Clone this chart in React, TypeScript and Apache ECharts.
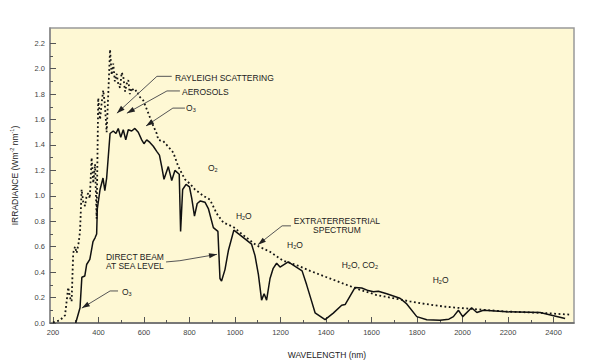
import React, { useEffect, useRef } from "react";
import * as echarts from "echarts";

// Direct beam at sea level (wavelength nm, irradiance W m^-2 nm^-1)
const directBeam: [number, number][] = [
  [300, 0], [319, 0.12], [327, 0.36], [340, 0.37], [348, 0.46], [362, 0.5], [376, 0.64], [385, 0.67], [392, 0.7],
  [395, 0.9], [407, 1.05], [420, 1.14], [428, 1.04], [436, 1.14], [451, 1.49], [465, 1.51], [477, 1.49],
  [487, 1.53], [498, 1.46], [509, 1.52], [520, 1.44], [531, 1.52], [546, 1.51], [560, 1.53], [575, 1.5],
  [590, 1.44], [600, 1.41], [612, 1.44], [626, 1.42], [641, 1.39], [656, 1.35], [668, 1.32], [678, 1.23],
  [688, 1.13], [707, 1.23], [722, 1.12], [736, 1.2], [755, 1.17], [761, 0.72], [770, 1.05], [785, 1.09],
  [800, 1.07], [810, 0.98], [822, 0.84], [834, 0.94], [848, 0.96], [868, 0.95], [883, 0.9], [905, 0.75],
  [925, 0.72], [934, 0.35], [941, 0.33], [956, 0.42], [971, 0.57], [995, 0.73], [1073, 0.62], [1088, 0.53],
  [1103, 0.38], [1117, 0.18], [1128, 0.23], [1139, 0.18], [1154, 0.35], [1168, 0.43], [1183, 0.47],
  [1198, 0.44], [1234, 0.48], [1278, 0.43], [1295, 0.41], [1315, 0.3], [1337, 0.17], [1352, 0.08],
  [1396, 0.026], [1432, 0.078], [1469, 0.14], [1484, 0.145], [1528, 0.28], [1557, 0.275], [1586, 0.255],
  [1608, 0.245], [1630, 0.25], [1667, 0.23], [1725, 0.195], [1755, 0.15], [1799, 0.05], [1843, 0.026],
  [1901, 0.022], [1940, 0.03], [1960, 0.05], [1982, 0.1], [2001, 0.05], [2040, 0.12], [2063, 0.083],
  [2092, 0.1], [2195, 0.088], [2341, 0.082], [2451, 0.035],
];

// Extraterrestrial spectrum
const extraterrestrial: [number, number][] = [
  [200, 0.005], [230, 0.02], [253, 0.06], [262, 0.2], [267, 0.28], [275, 0.2], [282, 0.17], [289, 0.55],
  [297, 0.6], [304, 0.55], [312, 0.62], [319, 0.72], [326, 1.05], [333, 0.95], [341, 0.92], [348, 1.0],
  [355, 1.02], [362, 0.98], [370, 1.3], [377, 1.1], [385, 1.25], [392, 0.82], [399, 1.77], [407, 1.6],
  [414, 1.73], [421, 1.83], [428, 1.72], [436, 1.5], [443, 1.8], [451, 2.15], [458, 1.95], [465, 2.04],
  [472, 1.9], [480, 1.96], [487, 1.88], [495, 1.85], [502, 1.97], [509, 1.94], [517, 1.82], [524, 1.88],
  [531, 1.91], [538, 1.8], [546, 1.85], [557, 1.82], [568, 1.83], [580, 1.78], [597, 1.75], [619, 1.65],
  [641, 1.55], [656, 1.49], [663, 1.44], [685, 1.43], [705, 1.39], [729, 1.34], [751, 1.23], [780, 1.13],
  [805, 1.09], [824, 1.05], [861, 1.0], [890, 0.97], [920, 0.86], [949, 0.79], [993, 0.755], [1037, 0.69],
  [1095, 0.61], [1154, 0.56], [1212, 0.49], [1271, 0.455], [1330, 0.41], [1403, 0.36], [1476, 0.31],
  [1550, 0.26], [1623, 0.22], [1696, 0.195], [1769, 0.17], [1843, 0.148], [1916, 0.13], [1975, 0.12],
  [2048, 0.11], [2195, 0.09], [2341, 0.08], [2480, 0.065],
];

const xMinorTicks = [200, 300, 400, 500, 600, 700, 800, 900, 1000, 1100, 1200, 1300, 1400, 1500, 1600, 1700, 1800, 1900, 2000, 2100, 2200, 2300, 2400];
const xLabels = [200, 400, 600, 800, 1000, 1200, 1400, 1600, 1800, 2000, 2200, 2400];
const yMinorTicks = [0, 0.1, 0.2, 0.3, 0.4, 0.5, 0.6, 0.7, 0.8, 0.9, 1.0, 1.1, 1.2, 1.3, 1.4, 1.5, 1.6, 1.7, 1.8, 1.9, 2.0, 2.1, 2.2];
const yLabels = [0, 0.2, 0.4, 0.6, 0.8, 1.0, 1.2, 1.4, 1.6, 1.8, 2.0, 2.2];

// Annotations in data coordinates
const annotationTexts: { text: string; at: [number, number]; align?: "left" | "center" }[] = [
  { text: "RAYLEIGH SCATTERING", at: [736, 1.93] },
  { text: "AEROSOLS", at: [767, 1.82] },
  { text: "O{s|3}", at: [785, 1.69] },
  { text: "O{s|2}", at: [881, 1.22] },
  { text: "H{s|2}O", at: [1004, 0.84] },
  { text: "EXTRATERRESTRIAL\nSPECTRUM", at: [1448, 0.768], align: "center" },
  { text: "H{s|2}O", at: [1229, 0.61] },
  { text: "H{s|2}O, CO{s|2}", at: [1469, 0.46] },
  { text: "H{s|2}O", at: [1869, 0.34] },
  { text: "DIRECT BEAM\nAT SEA LEVEL", at: [433, 0.48] },
  { text: "O{s|3}", at: [503, 0.245] },
];

const annotationArrows: [number, number][][] = [
  [[722, 1.94], [657, 1.94], [481, 1.65]],
  [[758, 1.825], [701, 1.825], [525, 1.65]],
  [[780, 1.69], [727, 1.69], [609, 1.55]],
  [[1246, 0.764], [1207, 0.764], [1101, 0.616]],
  [[697, 0.48], [758, 0.49], [921, 0.54]],
  [[486, 0.252], [451, 0.252], [327, 0.117]],
];

const FONT = "'Liberation Sans', Arial, Helvetica, sans-serif";

export default function App() {
  const ref = useRef<HTMLDivElement>(null);

  useEffect(() => {
    if (!ref.current) return;
    const chart = echarts.init(ref.current, null, { renderer: "svg" });
    const xRange = { min: 187, max: 2490 };
    const yRange = { min: 0, max: 2.32 };
    const option: any = {
      animation: false,
      backgroundColor: "#ffffff",
      grid: {
        left: 50, right: 26, top: 28, bottom: 39,
        show: true, backgroundColor: "#fef8d4", borderColor: "#999999", borderWidth: 1.5,
      },
      xAxis: [
        {
          type: "value", ...xRange,
          name: "WAVELENGTH (nm)", nameLocation: "middle", nameGap: 27,
          nameTextStyle: { fontFamily: FONT, fontSize: 8.5, color: "#222", padding: [0, 0, 0, 30] },
          axisLine: { show: true, lineStyle: { color: "#666", width: 1.5 } },
          axisTick: { show: true, inside: true, length: 3, customValues: xMinorTicks, lineStyle: { color: "#555" } },
          axisLabel: {
            customValues: xLabels, fontFamily: FONT, fontSize: 7.5, color: "#444", margin: 5,
            formatter: (v: number) => String(v),
          },
          splitLine: { show: false },
        },
        {
          type: "value", ...xRange, position: "bottom",
          axisLine: { show: false },
          axisTick: { show: true, inside: true, length: 6, customValues: xLabels, lineStyle: { color: "#555" } },
          axisLabel: { show: false },
          splitLine: { show: false },
        },
      ],
      yAxis: [
        {
          type: "value", ...yRange,
          name: "IRRADIANCE (Wm{sup|-2} nm{sup|-1})", nameLocation: "middle", nameGap: 29, nameRotate: 90,
          nameTextStyle: {
            fontFamily: FONT, fontSize: 8.5, color: "#222", lineHeight: 12,
            rich: { sup: { fontFamily: FONT, fontSize: 5.5, color: "#222", verticalAlign: "top", lineHeight: 12 } },
          },
          axisLine: { show: true, lineStyle: { color: "#888", width: 1.5 } },
          axisTick: { show: true, inside: true, length: 3, customValues: yMinorTicks, lineStyle: { color: "#555" } },
          axisLabel: {
            customValues: yLabels, fontFamily: FONT, fontSize: 7.5, color: "#444", margin: 5,
            formatter: (v: number) => v.toFixed(1),
          },
          splitLine: { show: false },
        },
        {
          type: "value", ...yRange, position: "left", offset: 0,
          axisLine: { show: false },
          axisTick: { show: true, inside: true, length: 6, customValues: yLabels, lineStyle: { color: "#555" } },
          axisLabel: { show: false },
          splitLine: { show: false },
        },
      ],
      series: [
        {
          type: "line", name: "Extraterrestrial", data: extraterrestrial, showSymbol: false,
          lineStyle: { color: "#151515", width: 1.8, type: [1.8, 2.6] },
          z: 3,
        },
        {
          type: "line", name: "Direct beam", data: directBeam, showSymbol: false,
          lineStyle: { color: "#111", width: 1.5 },
          z: 4,
        },
      ],
    };
    chart.setOption(option);

    const px = (p: [number, number]) =>
      chart.convertToPixel({ xAxisIndex: 0, yAxisIndex: 0 }, p) as number[];

    const graphics: any[] = [];
    annotationTexts.forEach((a) => {
      const [x, y] = px(a.at);
      graphics.push({
        type: "text", x, y, z: 10,
        style: {
          text: a.text, fontFamily: FONT, fontSize: 8.5, fill: "#222",
          align: a.align || "left", verticalAlign: "middle", lineHeight: 9,
          rich: { s: { fontFamily: FONT, fontSize: 5.5, fill: "#222", verticalAlign: "bottom", lineHeight: 10 } },
        },
      });
    });
    annotationArrows.forEach((arr) => {
      const pts = arr.map((p) => px(p));
      graphics.push({
        type: "polyline", z: 10,
        shape: { points: pts },
        style: { stroke: "#555", lineWidth: 1, fill: null },
      });
      const tip = pts[pts.length - 1];
      const prev = pts[pts.length - 2];
      const dx = tip[0] - prev[0];
      const dy = tip[1] - prev[1];
      const len = Math.sqrt(dx * dx + dy * dy) || 1;
      const ux = dx / len, uy = dy / len;
      const L = 8, W = 2.6;
      const bx = tip[0] - ux * L, by = tip[1] - uy * L;
      graphics.push({
        type: "polygon", z: 11,
        shape: { points: [tip, [bx - uy * W, by + ux * W], [bx + uy * W, by - ux * W]] },
        style: { fill: "#222" },
      });
    });
    chart.setOption({ graphic: graphics });

    return () => chart.dispose();
  }, []);

  return (
    <div
      ref={ref}
      style={{ position: "fixed", left: 0, top: 0, width: 600, height: 364 }}
    />
  );
}
